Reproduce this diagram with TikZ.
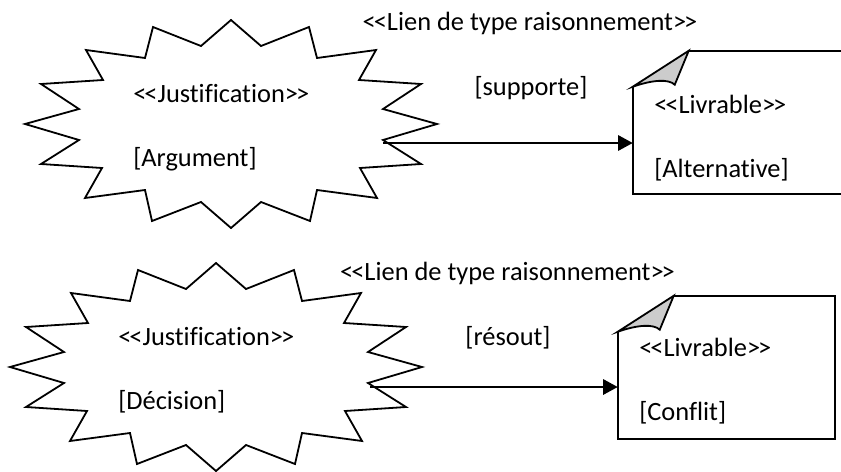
\documentclass[tikz,border=0pt]{standalone}
\usepackage{fontspec}
\newfontfamily\diagfont{Carlito}[Ligatures={NoCommon}]
\usetikzlibrary{arrows.meta,calc}
\definecolor{foldgray}{HTML}{CCCCCC}

% tight chevrons
\newcommand{\opn}{<\kern-1.5pt<}
\newcommand{\cls}{>\kern-1.5pt>}
% star outline around a coordinate (px units)
\newcommand{\burstoutline}[1]{%
  \draw[burst, shift={(#1)}] (0,-104) -- (30,-78) -- (78,-97) -- (86,-66) -- (145,-74) -- (128,-44)
    -- (190,-40) -- (152,-15) -- (206,0) -- (152,16) -- (190,40) -- (129,44) -- (146,74) -- (86,66)
    -- (79,97) -- (30,78) -- (0,104) -- (-30,78) -- (-79,97) -- (-86,66) -- (-146,74) -- (-129,44)
    -- (-190,40) -- (-152,16) -- (-206,0) -- (-152,-15) -- (-190,-40) -- (-128,-44) -- (-145,-74)
    -- (-86,-66) -- (-78,-97) -- (-30,-78) -- cycle;}
% document outline with folded corner
\newcommand{\livrableoutline}[1]{%
  \begin{scope}[shift={(#1.north west)}]
    \draw[docedge] (56,0) -- (#1.north east) -- (#1.south east) -- (#1.south west) -- (0,36);
    \filldraw[docedge, fill=foldgray] (0,36) -- (56,0) -- (42,34) .. controls (36,28) and (20,29) .. (0,36) -- cycle;
  \end{scope}}

\begin{document}
\begin{tikzpicture}[
  x=0.75pt, y=-0.75pt,
  txt/.style={font=\fontsize{19.8}{24}\selectfont\diagfont, inner sep=0pt},
  body/.style={txt, align=left, anchor=west},
  burst/.style={line width=1.35pt, line join=miter},
  docedge/.style={line width=1.35pt, line join=miter},
  livrable/.style={minimum width=162.75pt, minimum height=107.25pt, inner sep=0pt},
  link/.style={-{Triangle[length=11pt,width=11.5pt]}, line width=1.7pt}
]
  \clip (0,0) rectangle (841,471);

  % upper pair
  \coordinate (j1) at (231,124);
  \burstoutline{j1}
  \node[body] (j1t) at (133,127.5) {\opn Justification\cls\\[24pt][Argument]};
  \node[livrable] (l1) at (741.5,122.5) {};
  \livrableoutline{l1}
  \node[body] (l1t) at (654,138) {\opn Livrable\cls\\[24pt][Alternative]};
  \node[txt] (r1) at (530,23) {\opn Lien de type raisonnement\cls};
  \node[txt] (s1) at (531,88) {[supporte]};
  \coordinate (j1e) at (383,143);
  \draw[link] (j1e) -- (l1.west |- j1e);

  % lower pair
  \coordinate (j2) at (216,367);
  \burstoutline{j2}
  \node[body] (j2t) at (118,370.5) {\opn Justification\cls\\[24pt][Décision]};
  \node[livrable] (l2) at (726.5,367.5) {};
  \livrableoutline{l2}
  \node[body] (l2t) at (639,381.5) {\opn Livrable\cls\\[24pt][Conflit]};
  \node[txt] (r2) at (507.5,273) {\opn Lien de type raisonnement\cls};
  \node[txt] (s2) at (508,338) {[résout]};
  \coordinate (j2e) at (370,387);
  \draw[link] (j2e) -- (l2.west |- j2e);
\end{tikzpicture}
\end{document}
